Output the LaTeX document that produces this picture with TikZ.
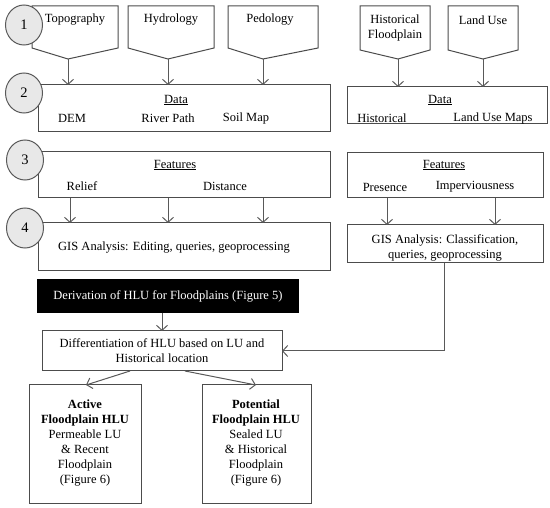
\documentclass[tikz,border=0pt]{standalone}
\usepackage{fontspec}
\setmainfont{Liberation Serif}
\usetikzlibrary{arrows.meta,shapes.geometric}
\begin{document}
\begin{tikzpicture}[x=1pt,y=-1pt,
  every node/.style={font=\fontsize{12.5}{15}\selectfont, inner sep=0pt},
  boxline/.style={draw=black!70, line width=1pt},
  conn/.style={draw=black!65, line width=1pt, -{Straight Barb[length=5pt,width=11pt]}},
  num/.style={draw=black!65, fill=black!9, line width=1pt, ellipse, minimum width=37pt, minimum height=40pt, font=\fontsize{14.5}{16}\selectfont},
  txt/.style={anchor=center}
]
\useasboundingbox (0,0) rectangle (550,508);
% pentagons (source shapes)
\draw[boxline] (32,6) -- (118,6) -- (118,48) -- (68,59) -- (32,48) -- cycle;
\node[txt] (topo) at (75,20) {Topography};
\draw[boxline] (128,6) -- (214,6) -- (214,48) -- (168,59) -- (128,48) -- cycle;
\node[txt] (hydro) at (171,20) {Hydrology};
\draw[boxline] (228,6) -- (318,6) -- (318,48) -- (263,59) -- (228,48) -- cycle;
\node[txt] (pedo) at (270,20) {Pedology};
\draw[boxline] (360,6) -- (430,6) -- (430,50) -- (398,59) -- (360,50) -- cycle;
\node[txt, align=center] (histfp) at (395,28) {Historical\\Floodplain};
\draw[boxline] (448,6) -- (518,6) -- (518,50) -- (483,59) -- (448,50) -- cycle;
\node[txt] (landuse) at (483,20) {Land Use};
\coordinate (tp) at (68,59);
\coordinate (hp) at (168,59);
\coordinate (pp) at (263,59);
\coordinate (hfp) at (398,59);
\coordinate (lup) at (483,59);
% row 2 boxes
\draw[boxline] (38,85) rectangle (330,132);
\node[txt] (data1) at (176,100) {\underline{Data}};
\node[txt] (dem) at (72,118) {DEM};
\node[txt] (river) at (168,118) {River Path};
\node[txt] (soil) at (246,118) {Soil Map};
\draw[boxline] (347,87) rectangle (547,124);
\node[txt] (data2) at (440,100) {\underline{Data}};
\node[txt] (hist) at (382,118) {Historical};
\node[txt] (lum) at (493,118) {Land Use Maps};
\coordinate (d1a) at (68,85);
\coordinate (d1b) at (168,85);
\coordinate (d1c) at (263,85);
\coordinate (d2a) at (398,87);
\coordinate (d2b) at (483,87);
\draw[conn] (tp) -- (d1a);
\draw[conn] (hp) -- (d1b);
\draw[conn] (pp) -- (d1c);
\draw[conn] (hfp) -- (d2a);
\draw[conn] (lup) -- (d2b);
% row 3
\draw[boxline] (38,152) rectangle (330,198);
\node[txt] (feat1) at (175,165) {\underline{Features}};
\node[txt] (relief) at (82,186) {Relief};
\node[txt] (dist) at (225,186) {Distance};
\draw[boxline] (347,153) rectangle (543,198);
\node[txt] (feat2) at (444,165) {\underline{Features}};
\node[txt] (pres) at (385,187) {Presence};
\node[txt] (imp) at (475,187) {Imperviousness};
% row 4
\draw[boxline] (38,223) rectangle (330,271);
\node[txt] (gis1) at (174,248) {GIS Analysis: Editing, queries, geoprocessing};
\draw[boxline] (347,225) rectangle (543,263);
\node[txt, align=center] (gis2) at (445,248) {GIS Analysis: Classification,\\queries, geoprocessing};
\coordinate (f1a) at (70,198); \coordinate (g1a) at (70,223);
\coordinate (f1b) at (168,198); \coordinate (g1b) at (168,223);
\coordinate (f1c) at (263,198); \coordinate (g1c) at (263,223);
\coordinate (f2a) at (387,198); \coordinate (g2a) at (387,225);
\coordinate (f2b) at (495,198); \coordinate (g2b) at (495,225);
\draw[conn] (f1a) -- (g1a);
\draw[conn] (f1b) -- (g1b);
\draw[conn] (f1c) -- (g1c);
\draw[conn] (f2a) -- (g2a);
\draw[conn] (f2b) -- (g2b);
% black box
\fill[black] (37,279) rectangle (299,313);
\node[txt, text=white] (deriv) at (168,296) {Derivation of HLU for Floodplains (Figure 5)};
% differentiation
\draw[boxline] (42,331) rectangle (282,371);
\node[txt, align=center] (diff) at (162,351) {Differentiation of HLU based on LU and\\Historical location};
\coordinate (bb) at (162,313); \coordinate (dt) at (162,331);
\draw[conn] (bb) -- (dt);
\coordinate (g2bot) at (444,263); \coordinate (dr) at (282,351);
\draw[conn] (g2bot) -- (444,351) -- (dr);
% outcome boxes
\draw[boxline] (29,385) rectangle (141,503);
\node[txt, align=center] (active) at (85,443) {\textbf{Active}\\\textbf{Floodplain HLU}\\Permeable LU\\\& Recent\\Floodplain\\(Figure 6)};
\draw[boxline] (202,385) rectangle (311,503);
\node[txt, align=center] (potential) at (256,443) {\textbf{Potential}\\\textbf{Floodplain HLU}\\Sealed LU\\\& Historical\\Floodplain\\(Figure 6)};
\coordinate (db1) at (130,371); \coordinate (at) at (86,385);
\coordinate (db2) at (185,371); \coordinate (pt) at (256,385);
\draw[conn] (db1) -- (at);
\draw[conn] (db2) -- (pt);
% numbered circles
\node[num] (c1) at (24,25) {1};
\node[num] (c2) at (24,93) {2};
\node[num] (c3) at (25,160) {3};
\node[num] (c4) at (25,228) {4};
\end{tikzpicture}
\end{document}
